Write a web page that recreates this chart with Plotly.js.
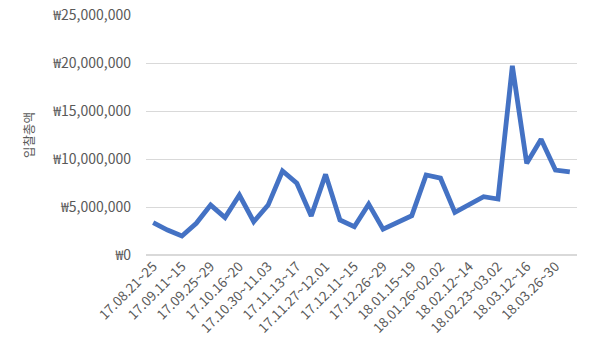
<!DOCTYPE html>
<html>
<head>
<meta charset="utf-8">
<script src="https://cdn.plot.ly/plotly-3.0.1.min.js"></script>
<style>html,body{margin:0;padding:0;background:#fff;}#chart{width:597px;height:356px;}</style>
</head>
<body>
<div id="chart"></div>
<script>
const categories = [
  "17.08.21~25","17.09.04~08","17.09.11~15","17.09.18~22","17.09.25~29",
  "17.10.10~13","17.10.16~20","17.10.23~27","17.10.30~11.03","17.11.06~10",
  "17.11.13~17","17.11.20~24","17.11.27~12.01","17.12.04~08","17.12.11~15",
  "17.12.18~22","17.12.26~29","18.01.08~12","18.01.15~19","18.01.22~25",
  "18.01.26~02.02","18.02.05~09","18.02.12~14","18.02.19~22","18.02.23~03.02",
  "18.03.05~09","18.03.12~16","18.03.19~23","18.03.26~30","18.04.02~06"
];
const totals = [
  3370000, 2600000, 1980000, 3300000, 5200000,
  3900000, 6250000, 3470000, 5200000, 8750000,
  7470000, 4060000, 8400000, 3650000, 2950000,
  5300000, 2700000, 3470000, 4100000, 8330000,
  8000000, 4440000, 5200000, 6080000, 5830000,
  19700000, 9550000, 12050000, 8850000, 8650000
];
const shownLabels = categories.filter((c, i) => i % 2 === 0);
const yTitle = "입찰총액";

const font = "'Noto Sans CJK KR', 'Noto Sans', sans-serif";
Plotly.newPlot("chart", [{
  x: categories,
  y: totals,
  type: "scatter",
  mode: "lines",
  line: {color: "#4472C4", width: 4.8},
  hoverinfo: "skip"
}], {
  width: 597, height: 356,
  margin: {l: 146, r: 20, t: 15, b: 101},
  paper_bgcolor: "#fff", plot_bgcolor: "#fff",
  showlegend: false,
  font: {family: font, color: "#595959", size: 12},
  xaxis: {
    type: "category",
    range: [-0.5, categories.length - 0.5],
    tickmode: "array",
    tickvals: shownLabels,
    ticktext: shownLabels,
    tickangle: -45,
    tickfont: {size: 13.5, color: "#595959", family: font},
    showgrid: false, zeroline: false, showline: false, ticks: ""
  },
  yaxis: {
    range: [0, 25000000],
    dtick: 5000000,
    tickprefix: "₩",
    tickformat: ",d",
    tickfont: {size: 14, color: "#595959", family: font},
    ticklabelstandoff: 14,
    gridcolor: "#d9d9d9", gridwidth: 1,
    zeroline: true, zerolinecolor: "#d9d9d9", zerolinewidth: 1.5,
    showline: false, ticks: "", ticklen: 0,
    title: {text: yTitle, font: {size: 12.5, color: "#595959", family: font}, standoff: 14}
  }
}, {staticPlot: true});
</script>
</body>
</html>
